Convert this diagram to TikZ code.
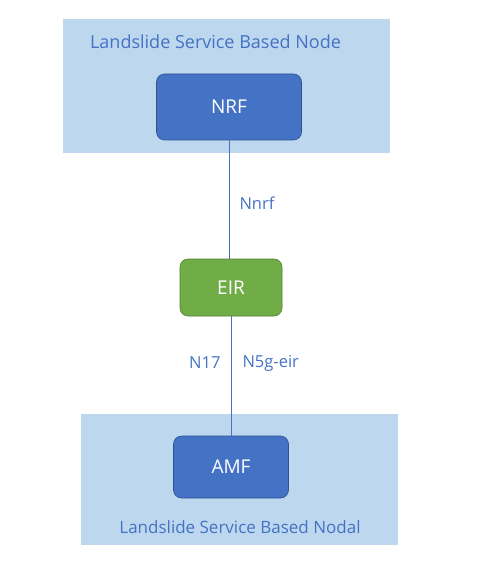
\documentclass[tikz,border=0pt]{standalone}
\usepackage{fontspec}
\setmainfont{Open Sans}
\usetikzlibrary{calc}

\definecolor{panelblue}{HTML}{BDD7EE}
\definecolor{nfblue}{HTML}{4472C4}
\definecolor{nfborder}{HTML}{2F528F}
\definecolor{eirgreen}{HTML}{70AD47}
\definecolor{eirborder}{HTML}{507E32}
\definecolor{labelblue}{HTML}{4472C4}

\tikzset{
	panel/.style={fill=panelblue, draw=none, inner sep=0pt},
	nfbox/.style={draw=nfborder, fill=nfblue, rounded corners=8pt, line width=0.6pt, text=white, font=\fontsize{19}{22}\selectfont},
	eirbox/.style={nfbox, draw=eirborder, fill=eirgreen},
	paneltext/.style={text=labelblue, font=\fontsize{18}{21}\selectfont},
	iflabel/.style={text=labelblue, font=\fontsize{16.5}{19}\selectfont},
	ifline/.style={draw=labelblue, line width=0.8pt}
}

\begin{document}
\begin{tikzpicture}[x=1pt,y=-1pt]

		\useasboundingbox (0,0) rectangle (476,585);

		% Panels
		\node [panel, minimum width=327pt, minimum height=134pt] (toppanel) at (226.5, 86) {};
		\node [panel, minimum width=317pt, minimum height=131pt] (botpanel) at (239.5, 479.5) {};

		\node [paneltext] (toptitle) at (215.5, 42) {Landslide Service Based Node};
		\node [paneltext, font=\fontsize{17}{20}\selectfont] (bottitle) at (240, 527) {Landslide Service Based Nodal};

		% Network functions
		\node [nfbox, minimum width=145pt, minimum height=66pt] (nrf) at (229, 107) {NRF};
		\node [eirbox, minimum width=102pt, minimum height=57pt] (eir) at (231, 287.5) {EIR};
		\node [nfbox, minimum width=115pt, minimum height=62pt] (amf) at (231, 467) {AMF};

		% Interfaces
		\draw [ifline] (nrf.south) -- (nrf.south |- eir.north);
		\draw [ifline] (eir.south) -- (eir.south |- amf.north);

		\node [iflabel, anchor=west] (nnrf) at (236, 203) {Nnrf};
		\node [iflabel, anchor=east] (n17) at (224, 363) {N17};
		\node [iflabel, anchor=west] (n5g) at (239, 363) {N5g-eir};

	\end{tikzpicture}
\end{document}
